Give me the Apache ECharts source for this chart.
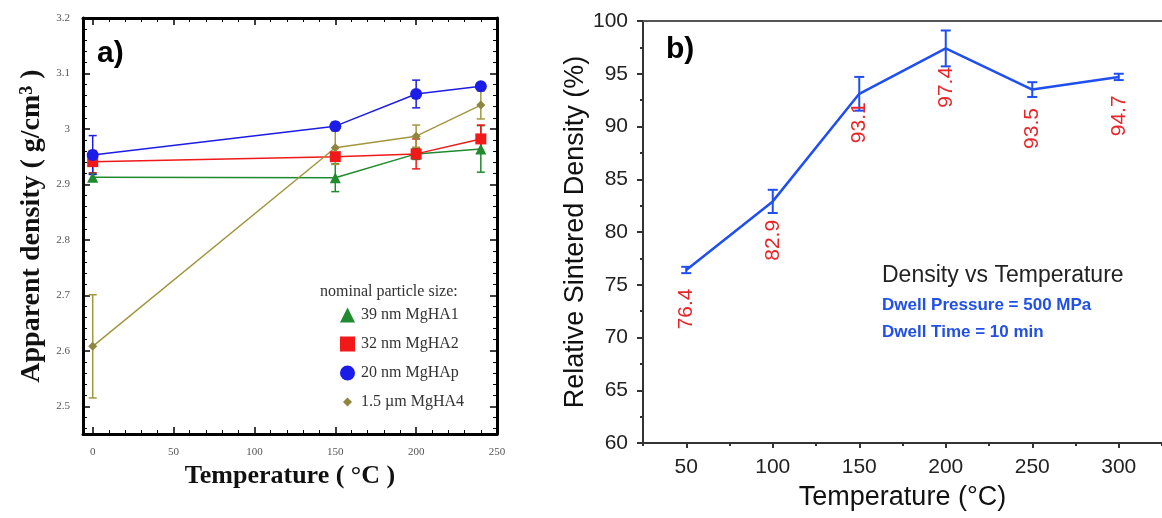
<!DOCTYPE html>
<html><head><meta charset="utf-8">
<script src="https://cdn.jsdelivr.net/npm/echarts@6/dist/echarts.min.js"></script>
<style>html,body{margin:0;padding:0;background:#fff}#c{width:1162px;height:518px}</style>
</head><body><div id="c"></div>
<script>
// ---------- Panel a) data ----------
const tempsA = [0, 150, 200, 240];
const namesA = ['39 nm MgHA1', '32 nm MgHA2', '20 nm MgHAp', '1.5 µm MgHA4'];
const densMgHA1 = [2.913, 2.912, 2.955, 2.964];
const errMgHA1  = [0.006, 0.025, 0.010, 0.042];
const densMgHA2 = [2.941, 2.950, 2.955, 2.982];
const errMgHA2  = [0.020, 0.006, 0.027, 0.025];
const densMgHAp = [2.953, 3.005, 3.063, 3.077];
const errMgHAp  = [0.035, 0.007, 0.025, 0.005];
const densMgHA4 = [2.608, 2.966, 2.987, 3.043];
const errMgHA4  = [0.093, 0.030, 0.020, 0.025];
const xTicksA = [0, 50, 100, 150, 200, 250];
const yTicksA = [2.5, 2.6, 2.7, 2.8, 2.9, 3, 3.1, 3.2];

// ---------- Panel b) data ----------
const tempsB = [50, 100, 150, 200, 250, 300];
const densB  = [76.4, 82.9, 93.1, 97.4, 93.5, 94.7];
const errB   = [0.3, 1.1, 1.6, 1.7, 0.7, 0.3];
const xTicksB = [50, 100, 150, 200, 250, 300];

// ---------- helpers ----------
function range(a, b, step, excl) {
  const out = [];
  for (let v = a; v <= b + 1e-9; v += step) {
    const r = Math.round(v * 1000) / 1000;
    if (!excl || excl.indexOf(r) < 0) out.push(r);
  }
  return out;
}
const xMinorA = range(0, 250, 10, xTicksA);
const yMinorA = range(2.46, 3.2, 0.02, yTicksA);
const xMinorB = range(25, 325, 50);

const serif = '"Liberation Serif", "Times New Roman", serif';
const sans = '"Liberation Sans", Arial, sans-serif';

function errRender(color, capHalf, lw) {
  return function (params, api) {
    const x = api.value(0), y = api.value(1), e = api.value(2);
    const t = api.coord([x, y + e]), b = api.coord([x, y - e]);
    const st = { stroke: color, lineWidth: lw };
    return { type: 'group', children: [
      { type: 'line', shape: { x1: t[0], y1: t[1], x2: b[0], y2: b[1] }, style: st },
      { type: 'line', shape: { x1: t[0] - capHalf, y1: t[1], x2: t[0] + capHalf, y2: t[1] }, style: st },
      { type: 'line', shape: { x1: b[0] - capHalf, y1: b[1], x2: b[0] + capHalf, y2: b[1] }, style: st }
    ]};
  };
}

const colA = ['#1f8a2e', '#f01818', '#1c1ce8', '#8f853f'];
const lineColA = ['#1f8a2e', '#f01818', '#1c1ce8', '#a39640'];
const symA = ['triangle', 'rect', 'circle', 'diamond'];
const symSizeA = [11, 11, 12, 9];
const densA = [densMgHA1, densMgHA2, densMgHAp, densMgHA4];
const errA = [errMgHA1, errMgHA2, errMgHAp, errMgHA4];

const series = [];
for (let k = 0; k < 4; k++) {
  series.push({
    type: 'custom', name: 'err' + k, xAxisIndex: 0, yAxisIndex: 0,
    renderItem: errRender(lineColA[k], 4, 1.5),
    data: tempsA.map((t, i) => [t, densA[k][i], errA[k][i]]),
    encode: { x: 0, y: 1 }, z: 2, silent: true
  });
}
for (let k = 0; k < 4; k++) {
  series.push({
    type: 'line', name: namesA[k], xAxisIndex: 0, yAxisIndex: 0,
    data: tempsA.map((t, i) => [t, densA[k][i]]),
    symbol: symA[k], symbolSize: symSizeA[k],
    itemStyle: { color: colA[k] },
    lineStyle: { color: lineColA[k], width: 1.5 },
    z: 3
  });
}
series.push({
  type: 'custom', name: 'errB', xAxisIndex: 4, yAxisIndex: 4,
  renderItem: errRender('#1f4ff0', 5, 2),
  data: tempsB.map((t, i) => [t, densB[i], errB[i]]),
  encode: { x: 0, y: 1 }, z: 2, silent: true
});
const dataB = tempsB.map((t, i) => ({ value: [t, densB[i]] }));
dataB[2].label = { distance: 8 };
series.push({
  type: 'line', name: 'b', xAxisIndex: 4, yAxisIndex: 4,
  data: dataB, symbol: 'circle', symbolSize: 1,
  itemStyle: { color: '#1f4ff0' },
  lineStyle: { color: '#1f4ff0', width: 2.5 },
  label: {
    show: true, position: 'bottom', distance: 18, rotate: 90,
    align: 'right', verticalAlign: 'middle',
    color: '#e8262a', fontSize: 21, fontFamily: sans,
    formatter: p => p.value[1].toFixed(1)
  },
  z: 3
});

const boxLine = { show: true, onZero: false, lineStyle: { color: '#000', width: 3 } };
const noLine = { show: false, onZero: false };
function axA(extra) { return Object.assign({ type: 'value', gridIndex: 0, splitLine: { show: false } }, extra); }

const option = {
  animation: false,
  backgroundColor: '#fff',
  grid: [
    { left: 83, top: 18, width: 414, height: 416 },
    { left: 643, top: 21, width: 523, height: 422 }
  ],
  xAxis: [
    axA({ min: -6, max: 250, position: 'bottom', axisLine: boxLine,
      axisTick: { inside: true, length: 7, customValues: xTicksA, lineStyle: { color: '#000', width: 1.5 } },
      axisLabel: { customValues: xTicksA, fontFamily: serif, fontSize: 11, color: '#555', margin: 13 },
      name: 'Temperature ( °C )', nameLocation: 'middle', nameGap: 29,
      nameTextStyle: { fontFamily: serif, fontWeight: 'bold', fontSize: 26, color: '#111' } }),
    axA({ min: -6, max: 250, position: 'bottom', axisLine: noLine,
      axisTick: { inside: true, length: 4, customValues: xMinorA, lineStyle: { color: '#000', width: 1 } },
      axisLabel: { show: false } }),
    axA({ min: -6, max: 250, position: 'top', axisLine: boxLine,
      axisTick: { inside: true, length: 7, customValues: xTicksA, lineStyle: { color: '#000', width: 1.5 } },
      axisLabel: { show: false } }),
    axA({ min: -6, max: 250, position: 'top', axisLine: noLine,
      axisTick: { inside: true, length: 4, customValues: xMinorA, lineStyle: { color: '#000', width: 1 } },
      axisLabel: { show: false } }),
    { type: 'value', gridIndex: 1, min: 25, max: 325, position: 'bottom', splitLine: { show: false },
      axisLine: { show: true, onZero: false, lineStyle: { color: '#333', width: 2 } },
      axisTick: { inside: false, length: 5, customValues: xTicksB, lineStyle: { color: '#333', width: 2 } },
      axisLabel: { customValues: xTicksB, fontFamily: sans, fontSize: 21, color: '#222', margin: 14 },
      name: 'Temperature (°C)', nameLocation: 'middle', nameGap: 41,
      nameTextStyle: { fontFamily: sans, fontSize: 27, color: '#111' } },
    { type: 'value', gridIndex: 1, min: 25, max: 325, position: 'bottom', splitLine: { show: false },
      axisLine: noLine,
      axisTick: { inside: false, length: 3, customValues: xMinorB, lineStyle: { color: '#333', width: 2 } },
      axisLabel: { show: false } },
    { type: 'value', gridIndex: 1, min: 25, max: 325, position: 'top', splitLine: { show: false },
      axisLine: { show: true, onZero: false, lineStyle: { color: '#555', width: 2 } },
      axisTick: { show: false }, axisLabel: { show: false } }
  ],
  yAxis: [
    axA({ min: 2.45, max: 3.2, position: 'left', axisLine: boxLine,
      axisTick: { inside: true, length: 7, customValues: yTicksA, lineStyle: { color: '#000', width: 1.5 } },
      axisLabel: { customValues: yTicksA, fontFamily: serif, fontSize: 11, color: '#555', margin: 13 },
      name: 'Apparent density ( g/cm{sup|3} )', nameLocation: 'middle', nameGap: 37, nameRotate: 90,
      nameTextStyle: { fontFamily: serif, fontWeight: 'bold', fontSize: 28, color: '#111',
        rich: { sup: { fontFamily: serif, fontWeight: 'bold', fontSize: 18, color: '#111', verticalAlign: 'top', lineHeight: 18 } } } }),
    axA({ min: 2.45, max: 3.2, position: 'left', axisLine: noLine,
      axisTick: { inside: true, length: 4, customValues: yMinorA, lineStyle: { color: '#000', width: 1 } },
      axisLabel: { show: false } }),
    axA({ min: 2.45, max: 3.2, position: 'right', axisLine: boxLine,
      axisTick: { inside: true, length: 7, customValues: yTicksA, lineStyle: { color: '#000', width: 1.5 } },
      axisLabel: { show: false } }),
    axA({ min: 2.45, max: 3.2, position: 'right', axisLine: noLine,
      axisTick: { inside: true, length: 4, customValues: yMinorA, lineStyle: { color: '#000', width: 1 } },
      axisLabel: { show: false } }),
    { type: 'value', gridIndex: 1, min: 60, max: 100, interval: 5, position: 'left', splitLine: { show: false },
      axisLine: { show: true, onZero: false, lineStyle: { color: '#333', width: 2 } },
      axisTick: { inside: false, length: 6, lineStyle: { color: '#333', width: 2 } },
      minorTick: { show: true, splitNumber: 2, length: 3, lineStyle: { color: '#333', width: 2 } },
      axisLabel: { fontFamily: sans, fontSize: 21, color: '#222', margin: 15 },
      name: 'Relative Sintered Density (%)', nameLocation: 'middle', nameGap: 52, nameRotate: 90,
      nameTextStyle: { fontFamily: sans, fontSize: 27, color: '#111' } }
  ],
  legend: {
    orient: 'vertical', left: 335, top: 302, itemWidth: 15, itemHeight: 15, itemGap: 13,
    selectedMode: false,
    textStyle: { fontFamily: serif, fontSize: 16, color: '#333', padding: [0, 0, 0, 1] },
    data: [
      { name: namesA[0], icon: 'triangle' },
      { name: namesA[1], icon: 'rect' },
      { name: namesA[2], icon: 'circle' },
      { name: namesA[3], icon: 'path://M0,0M20,20M10,4L16,10L10,16L4,10Z' }
    ]
  },
  graphic: [
    { type: 'text', style: { text: 'nominal particle size:', x: 320, y: 292, textVerticalAlign: 'middle', font: '16px ' + serif, fill: '#333' } },
    { type: 'text', style: { text: 'a)', x: 97, y: 54, textVerticalAlign: 'middle', font: 'bold 30px ' + sans, fill: '#000' } },
    { type: 'text', style: { text: 'b)', x: 666, y: 50, textVerticalAlign: 'middle', font: 'bold 30px ' + sans, fill: '#000' } },
    { type: 'text', style: { text: 'Density vs Temperature', x: 882, y: 276, textVerticalAlign: 'middle', font: '23px ' + sans, fill: '#222' } },
    { type: 'text', style: { text: 'Dwell Pressure = 500 MPa', x: 882, y: 305, textVerticalAlign: 'middle', font: 'bold 17px ' + sans, fill: '#2050e8' } },
    { type: 'text', style: { text: 'Dwell Time = 10 min', x: 882, y: 332, textVerticalAlign: 'middle', font: 'bold 17px ' + sans, fill: '#2050e8' } }
  ],
  series: series
};
const chart = echarts.init(document.getElementById('c'), null, { renderer: 'canvas' });
chart.setOption(option);
</script>
</body></html>
